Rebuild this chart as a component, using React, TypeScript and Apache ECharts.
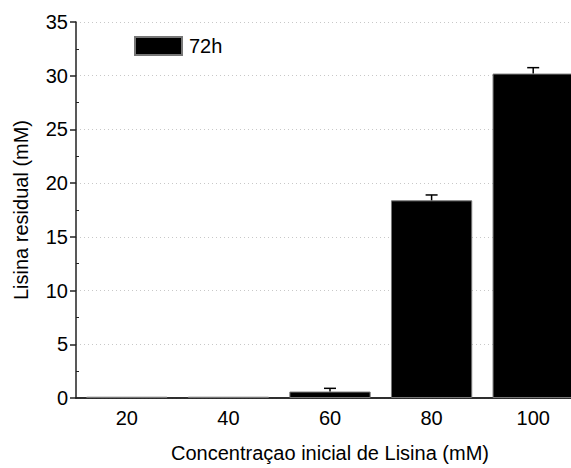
import React, { useEffect, useRef } from "react";
import * as echarts from "echarts";

const categories = ["20", "40", "60", "80", "100"];
const values = [0.12, 0.12, 0.6, 18.4, 30.2];
const errors = [0, 0, 0.3, 0.5, 0.55];
const seriesName = "72h";
const yMinorTicks = [2.5, 7.5, 12.5, 17.5, 22.5, 27.5, 32.5];

const FONT = "'Liberation Sans', Arial, sans-serif";
const FS = 20;

export default function App() {
  const ref = useRef<HTMLDivElement>(null);
  useEffect(() => {
    const chart = echarts.init(ref.current!, null, { renderer: "svg" });
    const axisColor = "#222";
    chart.setOption({
      animation: false,
      textStyle: { fontFamily: FONT },
      legend: {
        data: [{ name: seriesName, icon: "rect" }],
        left: 134,
        top: 36,
        itemWidth: 47,
        itemHeight: 18,
        itemGap: 5,
        padding: 0,
        textStyle: { fontSize: FS, color: "#000", fontFamily: FONT, padding: [0, 0, 0, 2] },
      },
      grid: { left: 76, top: 22, width: 508, height: 377, containLabel: false },
      xAxis: [
        {
          type: "category",
          data: categories,
          position: "bottom",
          boundaryGap: true,
          name: "Concentraçao inicial de Lisina (mM)",
          nameLocation: "middle",
          nameGap: 45,
          nameTextStyle: { fontSize: FS, color: "#000", fontFamily: FONT },
          axisLine: { lineStyle: { color: axisColor, width: 1.5 } },
          axisTick: { alignWithLabel: true, length: 6, inside: false, lineStyle: { color: axisColor, width: 1.5 } },
          axisLabel: { fontSize: FS, color: "#000", margin: 10, fontFamily: FONT },
          splitLine: { show: false },
        },
        {
          type: "category",
          data: categories,
          position: "top",
          boundaryGap: true,
          axisLine: { lineStyle: { color: axisColor, width: 1.5 } },
          axisTick: { alignWithLabel: true, length: 3, inside: true, lineStyle: { color: axisColor, width: 1 } },
          axisLabel: { show: false },
          splitLine: { show: false },
        },
      ],
      yAxis: [
        {
          type: "value",
          min: 0,
          max: 35,
          interval: 5,
          name: "Lisina residual (mM)",
          nameLocation: "middle",
          nameGap: 45,
          nameTextStyle: { fontSize: FS, color: "#000", fontFamily: FONT },
          axisLine: { show: true, lineStyle: { color: axisColor, width: 1.5 } },
          axisTick: { show: true, length: 6, inside: false, lineStyle: { color: axisColor, width: 1.5 } },
          axisLabel: { fontSize: FS, color: "#000", margin: 8, fontFamily: FONT },
          splitLine: { show: true, lineStyle: { color: "#c8c8c8", type: [1, 3], width: 1 } },
        },
        {
          type: "value",
          min: 0,
          max: 35,
          interval: 5,
          position: "left",
          axisLine: { show: false },
          axisTick: {
            show: true,
            inside: true,
            length: 3,
            customValues: yMinorTicks,
            lineStyle: { color: axisColor, width: 1 },
          },
          axisLabel: { show: false },
          splitLine: { show: false },
        },
      ],
      series: [
        {
          name: seriesName,
          type: "bar",
          data: values,
          barWidth: "80%",
          itemStyle: { color: "#000", borderColor: "#777", borderWidth: 1 },
          z: 2,
        },
        {
          type: "custom",
          data: values.map((v, i) => [i, v, errors[i]]),
          z: 3,
          renderItem: (params: any, api: any) => {
            const i = api.value(0);
            const v = api.value(1);
            const e = api.value(2);
            if (!e) return { type: "group", children: [] };
            const base = api.coord([i, v]);
            const top = api.coord([i, v + e]);
            const hw = 6;
            const style = { stroke: "#000", lineWidth: 1.5 };
            return {
              type: "group",
              children: [
                { type: "line", shape: { x1: base[0], y1: base[1], x2: top[0], y2: top[1] }, style },
                { type: "line", shape: { x1: top[0] - hw, y1: top[1], x2: top[0] + hw, y2: top[1] }, style },
              ],
            };
          },
        },
      ],
    });
    return () => chart.dispose();
  }, []);
  return (
    <div
      style={{ position: "fixed", left: 0, top: 0, width: 571, height: 468, overflow: "hidden", background: "#fff" }}
    >
      <div ref={ref} style={{ width: 620, height: 468 }} />
    </div>
  );
}
